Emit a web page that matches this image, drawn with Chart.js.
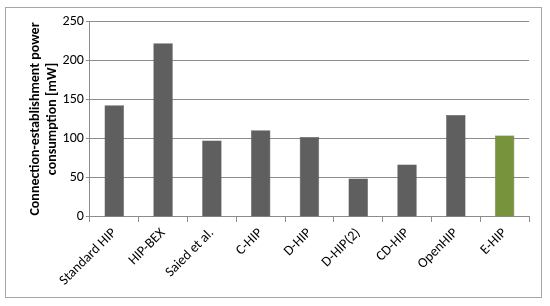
<!DOCTYPE html>
<html>
<head>
<meta charset="utf-8">
<script src="https://cdn.jsdelivr.net/npm/chart.js@4/dist/chart.umd.min.js"></script>
<style>
  html, body { margin: 0; padding: 0; background: #fff; }
  #frame {
    position: absolute; left: 5px; top: 7px;
    width: 535px; height: 289px;
    border: 1px solid #a6a6a6;
  }
</style>
</head>
<body>
<div id="frame"><canvas id="powerChart"></canvas></div>
<script>
const categories = ['Standard HIP', 'HIP-BEX', 'Saied et al.', 'C-HIP', 'D-HIP', 'D-HIP(2)', 'CD-HIP', 'OpenHIP', 'E-HIP'];
const powerValues = [142.5, 221.5, 97.5, 110.5, 102, 49, 67, 130, 104];
const barColors = ['#5f5f5f', '#5f5f5f', '#5f5f5f', '#5f5f5f', '#5f5f5f', '#5f5f5f', '#5f5f5f', '#5f5f5f', '#77933c'];
const yTicks = [0, 50, 100, 150, 200, 250];

const font = 'Carlito, Lato, sans-serif';

new Chart(document.getElementById('powerChart'), {
  type: 'bar',
  data: {
    labels: categories,
    datasets: [{
      data: powerValues,
      backgroundColor: barColors,
      borderColor: '#4a4a4a',
      borderWidth: 0.5,
      categoryPercentage: 0.8,
      barPercentage: 0.5
    }]
  },
  options: {
    responsive: true,
    maintainAspectRatio: false,
    animation: false,
    layout: { padding: { top: 13, right: 12, bottom: 5, left: 21 } },
    plugins: { legend: { display: false }, tooltip: { enabled: false } },
    scales: {
      x: {
        grid: { display: true, drawOnChartArea: false, drawTicks: true, tickLength: 5, color: '#8c8c8c' },
        border: { color: '#8c8c8c' },
        ticks: {
          color: '#000', maxRotation: 45, minRotation: 45, padding: 3,
          font: { family: font, size: 14 }
        }
      },
      y: {
        min: 0, max: 250,
        afterBuildTicks: axis => { axis.ticks = yTicks.map(v => ({ value: v })); },
        grid: { color: '#8c8c8c', tickLength: 4 },
        border: { color: '#8c8c8c' },
        ticks: { color: '#000', padding: 2, font: { family: font, size: 14 } },
        title: {
          display: true,
          text: ['Connection-establishment power', 'consumption [mW]'],
          color: '#000',
          font: { family: font, size: 14, weight: 'bold', lineHeight: 1.2 },
          padding: { top: 0, bottom: 0 }
        }
      }
    }
  }
});
</script>
</body>
</html>
